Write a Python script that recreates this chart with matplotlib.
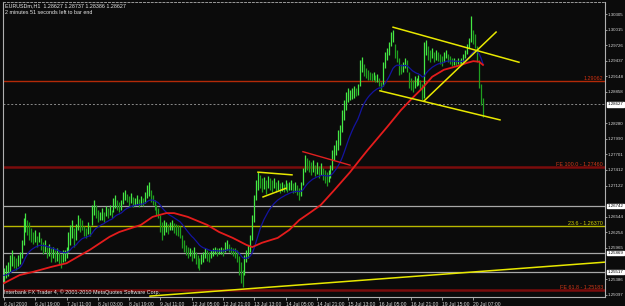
import numpy as np
import pandas as pd
import matplotlib
matplotlib.use("Agg")
import matplotlib.pyplot as plt
import matplotlib.transforms as mtransforms

# ---------------- data (EURUSDm, H1) ----------------
highs = [
    1.2559, 1.2564, 1.2570, 1.2583, 1.2592, 1.2581, 1.2577, 1.2583, 1.2588, 1.2611,
    1.2652, 1.2661, 1.2648, 1.2644, 1.2633, 1.2626, 1.2629, 1.2618, 1.2626, 1.2614,
    1.2607, 1.2611, 1.2599, 1.2603, 1.2596, 1.2599, 1.2592, 1.2596, 1.2588, 1.2585,
    1.2592, 1.2592, 1.2599, 1.2626, 1.2639, 1.2648, 1.2633, 1.2641, 1.2657, 1.2652,
    1.2648, 1.2637, 1.2633, 1.2644, 1.2637,
    1.2676, 1.2685, 1.2676, 1.2667, 1.2663, 1.2670,
    1.2663, 1.2674, 1.2670, 1.2676, 1.2667, 1.2689, 1.2694, 1.2685, 1.2681, 1.2685,
    1.2700, 1.2704, 1.2696, 1.2692, 1.2698, 1.2691, 1.2689, 1.2694, 1.2687, 1.2692,
    1.2689, 1.2700, 1.2713, 1.2719, 1.2704, 1.2694, 1.2685, 1.2676, 1.2670, 1.2657,
    1.2644, 1.2648, 1.2644, 1.2641, 1.2644, 1.2648, 1.2642, 1.2641, 1.2639,
    1.2637, 1.2620,
    1.2611, 1.2601, 1.2599, 1.2596, 1.2592, 1.2599, 1.2588, 1.2583, 1.2577, 1.2585,
    1.2588, 1.2596, 1.2592, 1.2588, 1.2592, 1.2596, 1.2599, 1.2596, 1.2596, 1.2599,
    1.2596, 1.2607, 1.2611, 1.2603, 1.2599, 1.2596, 1.2596, 1.2592, 1.2581, 1.2570,
    1.2555, 1.2583, 1.2592, 1.2601, 1.2620, 1.2657, 1.2694, 1.2722, 1.2737, 1.2732,
    1.2726, 1.2728,
    1.2722, 1.2730, 1.2726, 1.2722, 1.2726, 1.2719, 1.2722, 1.2717, 1.2719,
    1.2715, 1.2722, 1.2717, 1.2719, 1.2722, 1.2717, 1.2719, 1.2713, 1.2707, 1.2719,
    1.2745, 1.2769, 1.2763, 1.2760, 1.2756, 1.2760, 1.2750, 1.2756, 1.2748, 1.2754,
    1.2745, 1.2741, 1.2737, 1.2741, 1.2750, 1.2778, 1.2787, 1.2797, 1.2815, 1.2825,
    1.2852, 1.2871, 1.2886, 1.2893, 1.2890, 1.2893,
    1.2897, 1.2893, 1.2901, 1.2945, 1.2951,
    1.2938, 1.2931, 1.2927, 1.2923, 1.2921, 1.2923, 1.2918, 1.2919, 1.2912, 1.2904,
    1.2942, 1.2960, 1.2968, 1.2979, 1.2997, 1.3001, 1.2975, 1.2964, 1.2949, 1.2938,
    1.2942, 1.2949, 1.2945, 1.2923, 1.2912, 1.2908, 1.2916, 1.2912, 1.2918, 1.2908,
    1.2901, 1.2979, 1.2983, 1.2971, 1.2964, 1.2968, 1.2960, 1.2964, 1.2960,
    1.2957, 1.2953, 1.2960, 1.2964, 1.2957, 1.2953, 1.2949, 1.2949, 1.2945, 1.2949, 1.2945, 1.2949,
    1.2957, 1.2964, 1.2975, 1.2986, 1.3027, 1.3001, 1.2994, 1.2971, 1.2945, 1.2901, 1.2874,
]
lows = [
    1.2532, 1.2540, 1.2544, 1.2551, 1.2562, 1.2559, 1.2555, 1.2562, 1.2566, 1.2577,
    1.2601, 1.2626, 1.2620, 1.2611, 1.2607, 1.2603, 1.2607, 1.2599, 1.2607, 1.2592,
    1.2585, 1.2588, 1.2577, 1.2581, 1.2570, 1.2577, 1.2570, 1.2573, 1.2566, 1.2559,
    1.2570, 1.2573, 1.2577, 1.2588, 1.2601, 1.2614, 1.2599, 1.2611, 1.2629, 1.2626,
    1.2629, 1.2618, 1.2614, 1.2622, 1.2618,
    1.2639, 1.2657, 1.2652, 1.2644, 1.2648, 1.2648,
    1.2644, 1.2655, 1.2652, 1.2657, 1.2652, 1.2663, 1.2670, 1.2667, 1.2663, 1.2667,
    1.2678, 1.2685, 1.2681, 1.2674, 1.2679, 1.2672, 1.2674, 1.2678, 1.2672, 1.2676,
    1.2674, 1.2679, 1.2689, 1.2692, 1.2681, 1.2676, 1.2667, 1.2657, 1.2652, 1.2626,
    1.2611, 1.2620, 1.2626, 1.2622, 1.2629, 1.2629, 1.2624, 1.2620, 1.2618,
    1.2614, 1.2596,
    1.2588, 1.2583, 1.2577, 1.2581, 1.2573, 1.2577, 1.2566, 1.2559, 1.2555, 1.2566,
    1.2570, 1.2577, 1.2573, 1.2570, 1.2577, 1.2581, 1.2585, 1.2581, 1.2585, 1.2585,
    1.2581, 1.2588, 1.2592, 1.2588, 1.2585, 1.2581, 1.2577, 1.2570, 1.2546, 1.2532,
    1.2523, 1.2546, 1.2570, 1.2577, 1.2588, 1.2611, 1.2644, 1.2685, 1.2704, 1.2707,
    1.2700, 1.2706,
    1.2696, 1.2707, 1.2704, 1.2700, 1.2707, 1.2700, 1.2704, 1.2698, 1.2702,
    1.2700, 1.2704, 1.2700, 1.2704, 1.2704, 1.2698, 1.2700, 1.2694, 1.2685, 1.2692,
    1.2713, 1.2737, 1.2741, 1.2737, 1.2732, 1.2737, 1.2730, 1.2733, 1.2726, 1.2732,
    1.2722, 1.2717, 1.2711, 1.2719, 1.2726, 1.2741, 1.2760, 1.2769, 1.2778, 1.2787,
    1.2812, 1.2834, 1.2852, 1.2867, 1.2871, 1.2873,
    1.2875, 1.2878, 1.2880, 1.2897, 1.2923,
    1.2916, 1.2912, 1.2908, 1.2908, 1.2906, 1.2908, 1.2904, 1.2904, 1.2897, 1.2890,
    1.2897, 1.2931, 1.2945, 1.2955, 1.2971, 1.2979, 1.2949, 1.2942, 1.2918, 1.2919,
    1.2923, 1.2931, 1.2923, 1.2893, 1.2890, 1.2886, 1.2893, 1.2897, 1.2899, 1.2890,
    1.2871, 1.2875, 1.2955, 1.2945, 1.2942, 1.2949, 1.2942, 1.2945, 1.2943,
    1.2938, 1.2934, 1.2942, 1.2949, 1.2942, 1.2938, 1.2934, 1.2936, 1.2934, 1.2938, 1.2934, 1.2936,
    1.2942, 1.2949, 1.2957, 1.2968, 1.2979, 1.2975, 1.2968, 1.2942, 1.2893, 1.2862, 1.2839,
]

# slow (red) moving average, read at bar positions
red_ma_bars = [0, 8, 15, 24, 32, 44, 54, 59, 70, 76, 83, 87, 94, 104, 110, 117, 124, 127,
               132, 140, 146, 151, 157, 162, 169, 177, 182, 186, 196, 203, 209, 214, 219,
               225, 232, 237, 240, 243, 245]
red_ma_vals = [1.2531, 1.2546, 1.2552, 1.2561, 1.2568, 1.2593, 1.2617, 1.2626, 1.2639,
               1.2654, 1.2661, 1.2661, 1.2654, 1.2639, 1.2626, 1.2615, 1.2602, 1.2598,
               1.2606, 1.2615, 1.2630, 1.2648, 1.2663, 1.2676, 1.2704, 1.2737, 1.2760,
               1.2778, 1.2821, 1.2852, 1.2875, 1.2893, 1.2914, 1.2927, 1.2934, 1.2940,
               1.2943, 1.2942, 1.2936]

x_tick_labels = ["6 Jul 2010", "6 Jul 19:00", "7 Jul 11:00", "8 Jul 03:00", "8 Jul 19:00",
                 "9 Jul 11:00", "12 Jul 05:00", "12 Jul 21:00", "13 Jul 13:00",
                 "14 Jul 05:00", "14 Jul 21:00", "15 Jul 13:00", "16 Jul 05:00",
                 "16 Jul 21:00", "19 Jul 15:00", "20 Jul 07:00"]
x_tick_bars = list(range(0, 241, 16))

y_ticks = [1.30305, 1.30015, 1.29726, 1.29437, 1.29148, 1.28858, 1.28280, 1.27990,
           1.27701, 1.27412, 1.27122, 1.26544, 1.26254, 1.25965, 1.25386, 1.25097]

current_price = 1.28627
title_values = "1.28627 1.28737 1.28386 1.28627"
red_level = 1.29062
fe_levels = {"FE 100.0": 1.27460, "FE 61.8": 1.25183}
fib_236 = 1.26370
gray_levels = [1.26742, 1.25869, 1.25517]

# trend lines: (bar, price) endpoints
yellow_lines = [
    ((129.9, 1.2737), (147.3, 1.2732)),
    ((132.5, 1.2691), (144.2, 1.2707)),
    ((199.0, 1.3006), (263.4, 1.2941)),
    ((192.3, 1.2888), (253.7, 1.2834)),
    ((214.8, 1.2869), (251.7, 1.2997)),
    ((74.7, 1.2507), (307.4, 1.2570)),
]
red_lines = [((152.9, 1.2775), (177.0, 1.2750))]

# ---------------- drawing ----------------
BG = "#0b0b0b"
fig = plt.figure(figsize=(6.25, 3.06), dpi=100, facecolor=BG)
ax = fig.add_axes([3 / 625, 1 - 297 / 306, 602 / 625, 295 / 306])
ax.set_facecolor(BG)
ax.set_xlim(-0.5, 307.4)
ax.set_ylim(1.25053, 1.30528)

FONT = ["Liberation Sans", "DejaVu Sans"]
FS = 3.9      # in-chart text
FSX = 3.6     # time axis
FSY = 3.2     # price axis

h = np.array(highs)
l = np.array(lows)
n = len(h)
xs = np.arange(n)
mid = (h + l) / 2
up = np.r_[True, mid[1:] >= mid[:-1]]
cols = np.where(up, "#44e844", "#1f9f1f")

# horizontal levels (behind bars)
for g in gray_levels:
    ax.axhline(g, color="#a8a8a8", lw=0.9, zorder=1)
ax.axhline(fib_236, color="#b8b800", lw=1.0, zorder=1)
for v in fe_levels.values():
    ax.axhline(v, color="#7a0c0c", lw=1.8, zorder=1)
ax.axhline(red_level, color="#b42a08", lw=1.0, zorder=1)
ax.axhline(current_price, color="#8a8a8a", lw=0.7, ls=(0, (2, 2)), zorder=1)

ax.vlines(xs, l, h, colors=cols, lw=0.9, zorder=3)

blue = pd.Series(mid).ewm(span=17, adjust=False).mean()
ax.plot(xs, blue, color="#1414a0", lw=0.9, zorder=4)
ax.plot(red_ma_bars, red_ma_vals, color="#e41c1c", lw=1.3, zorder=4)

for (a, b) in yellow_lines:
    ax.plot([a[0], b[0]], [a[1], b[1]], color="#e8e800", lw=1.1, zorder=5)
for (a, b) in red_lines:
    ax.plot([a[0], b[0]], [a[1], b[1]], color="#e02020", lw=1.0, zorder=5)

# spines
for s in ["left", "bottom", "right"]:
    ax.spines[s].set_color("#b0b0b0")
    ax.spines[s].set_linewidth(0.8)
ax.spines["top"].set_color("#9a9a9a")
ax.spines["top"].set_linestyle((0, (2, 2)))
ax.spines["top"].set_linewidth(0.7)

# axes ticks
ax.yaxis.tick_right()
ax.set_yticks(y_ticks)
ax.set_yticklabels([f"{v:.5f}" for v in y_ticks], fontsize=FSY, color="#d8d8d8", family=FONT)
ax.tick_params(axis="y", length=1.5, width=0.6, color="#b0b0b0", pad=0.4)
ax.set_xticks(x_tick_bars)
ax.set_xticklabels(x_tick_labels, fontsize=FSX, color="#d8d8d8", family=FONT, ha="left")
ax.tick_params(axis="x", length=2.5, width=0.6, color="#b0b0b0", pad=0.8)

tr = mtransforms.blended_transform_factory(ax.transAxes, ax.transData)

def axis_box(v):
    ax.text(1.004, v, f"{v:.5f}", transform=tr, fontsize=FSY, family=FONT, color="black",
            va="center", ha="left", clip_on=False, zorder=10,
            bbox=dict(boxstyle="square,pad=0.1", fc="white", ec="white"))

axis_box(current_price)
for g in gray_levels:
    axis_box(g)

# level labels inside chart
ax.text(0.997, red_level, f"{red_level:.5f}", transform=tr, fontsize=FS, family=FONT,
        color="#d03010", ha="right", va="bottom")
for name, v in fe_levels.items():
    ax.text(0.997, v, f"{name} - {v:.5f}", transform=tr, fontsize=FS, family=FONT,
            color="#d03818", ha="right", va="bottom")
ax.text(0.997, fib_236, f"23.6 - {fib_236:.5f}", transform=tr, fontsize=FS, family=FONT,
        color="#d0d000", ha="right", va="bottom")

# header and footer text
ax.text(0.004, 0.995, f"EURUSDm,H1  {title_values}", transform=ax.transAxes, fontsize=FS,
        family=FONT, color="#e8e8e8", ha="left", va="top")
ax.text(0.004, 0.972, "2 minutes 51 seconds left to bar end", transform=ax.transAxes,
        fontsize=FS, family=FONT, color="#e8e8e8", ha="left", va="top")
ax.text(0.002, 0.008, "Interbank FX Trader 4, \u00a9 2001-2010 MetaQuotes Software Corp.",
        transform=ax.transAxes, fontsize=FS, family=FONT, color="#e8e8e8", ha="left",
        va="bottom")

fig.savefig("out.png", dpi=100, facecolor=BG)
